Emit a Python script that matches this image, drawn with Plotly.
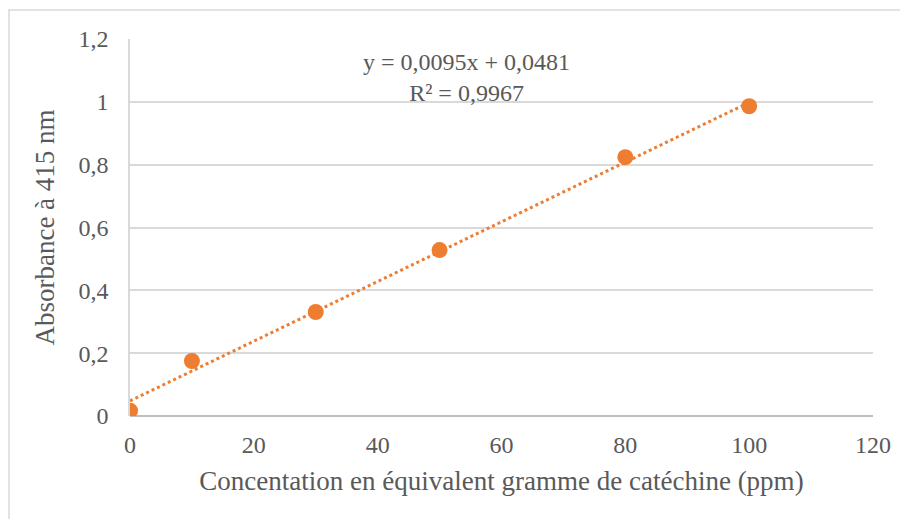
"""
Courbe d'étalonnage : absorbance à 415 nm en fonction de la concentration (catéchine).
"""

import plotly.graph_objects as go

# Data
CONC_PPM = [0, 10, 30, 50, 80, 100]
ABSORBANCE = [0.017, 0.175, 0.331, 0.528, 0.824, 0.986]

# Linear trendline (as shown on the chart)
SLOPE = 0.0095
INTERCEPT = 0.0481
R2 = 0.9967
TREND_X = [0, 100]

X_TICKS = [0, 20, 40, 60, 80, 100, 120]
Y_TICKS = [0, 0.2, 0.4, 0.6, 0.8, 1.0, 1.2]
Y_TICK_LABELS = ['0', '0,2', '0,4', '0,6', '0,8', '1', '1,2']

ORANGE = '#ED7D31'
TEXT = '#595959'
FONT = 'Liberation Serif, Times New Roman, serif'

fig = go.Figure()

# Dotted trendline
fig.add_trace(go.Scatter(
    x=TREND_X,
    y=[SLOPE * x + INTERCEPT for x in TREND_X],
    mode='lines',
    line=dict(color=ORANGE, width=3, dash='dot'),
    hoverinfo='skip',
    showlegend=False,
))

# Measured points
fig.add_trace(go.Scatter(
    x=CONC_PPM,
    y=ABSORBANCE,
    mode='markers',
    marker=dict(color=ORANGE, size=16),
    showlegend=False,
))

# page body has an 8px margin, so margins are shifted accordingly
fig.update_layout(
    width=908,
    height=519,
    margin=dict(l=122, r=43, t=31, b=111),
    plot_bgcolor='white',
    paper_bgcolor='white',
    font=dict(family=FONT, color=TEXT, size=24),
    shapes=[
        # chart border (Excel-style)
        dict(type='rect', xref='paper', yref='paper',
             x0=-121 / 743, x1=1.2, y0=-0.4, y1=1 + 29 / 377,
             line=dict(color='#d9d9d9', width=1.5), layer='below'),
    ],
    annotations=[
        dict(
            x=54.4, y=1.079, xref='x', yref='y',
            text=f'y = 0,0095x + 0,0481<br>R² = {str(R2).replace(".", ",")}',
            showarrow=False,
            font=dict(size=24, color=TEXT, family=FONT),
            align='center',
        )
    ],
)

fig.update_xaxes(
    range=[0, 120],
    tickvals=X_TICKS,
    tickfont=dict(size=24),
    showgrid=False,
    zeroline=False,
    showline=False,
    ticks='',
    ticklabelstandoff=12,
    title=dict(text='Concentation en équivalent gramme de catéchine (ppm)',
               font=dict(size=27, color=TEXT), standoff=14),
)
fig.update_yaxes(
    range=[0, 1.2],
    tickvals=Y_TICKS,
    ticktext=Y_TICK_LABELS,
    tickfont=dict(size=24),
    showgrid=True,
    gridcolor='#d9d9d9',
    gridwidth=1.5,
    zeroline=True,
    zerolinecolor='#bfbfbf',
    zerolinewidth=1.5,
    showline=True,
    linecolor='#d9d9d9',
    linewidth=1.5,
    ticks='',
    ticklabelstandoff=15,
    title=dict(text='Absorbance à 415 nm', font=dict(size=27, color=TEXT), standoff=16),
)

fig.write_html("out.html")
